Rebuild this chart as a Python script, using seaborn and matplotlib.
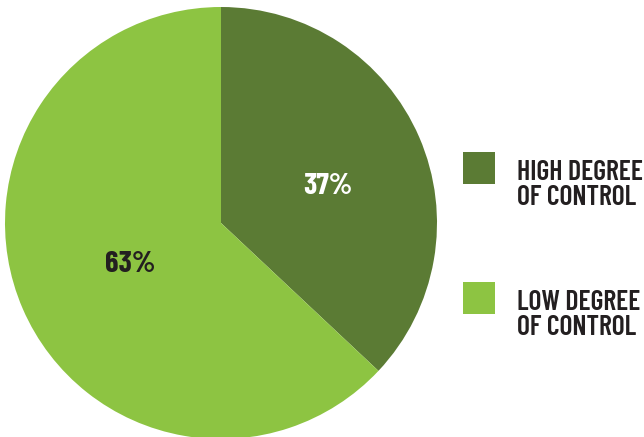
import matplotlib
matplotlib.use("Agg")
import matplotlib.pyplot as plt
import seaborn as sns
from matplotlib.patches import Rectangle

labels = ["HIGH DEGREE\nOF CONTROL", "LOW DEGREE\nOF CONTROL"]
values = [37, 63]
colors = ["#5b7b34", "#8dc442"]
pct_colors = ["white", "#231f20"]
pct_pos = [(0.495, 0.167), (-0.421, -0.194)]

sns.set_theme(style="white")
plt.rcParams['font.family'] = ['Barlow Condensed', 'DejaVu Sans']

W, H = 644, 437
fig = plt.figure(figsize=(W / 100, H / 100), dpi=100)
cx, cy, r = 221, 437 - 223, 216
ax = fig.add_axes([(cx - r) / W, (cy - r) / H, 2 * r / W, 2 * r / H])
wedges, texts, autotexts = ax.pie(values, colors=colors, startangle=90, counterclock=False,
                                  autopct=lambda p: f"{p:.0f}%", pctdistance=0.5,
                                  wedgeprops=dict(linewidth=0))
for t, c, p in zip(autotexts, pct_colors, pct_pos):
    t.set_color(c)
    t.set_fontsize(22)
    t.set_fontweight(700)
    t.set_position(p)
    t.set_va('center')
    t.set_ha('center')
ax.set_xlim(-1, 1)
ax.set_ylim(-1, 1)
ax.set_aspect('equal')
ax.axis('off')

# legend
sq_tops = [152, 282]
for lab, col, top in zip(labels, colors, sq_tops):
    fig.add_artist(Rectangle((463 / W, 1 - (top + 32) / H), 32 / W, 32 / H,
                             transform=fig.transFigure, facecolor=col, edgecolor='none'))
    fig.text(517 / W, 1 - (top + 53) / H, lab, ha='left', va='baseline', fontsize=20,
             fontweight=600, color='#231f20', linespacing=1.0)

fig.savefig("out.png", dpi=100)
